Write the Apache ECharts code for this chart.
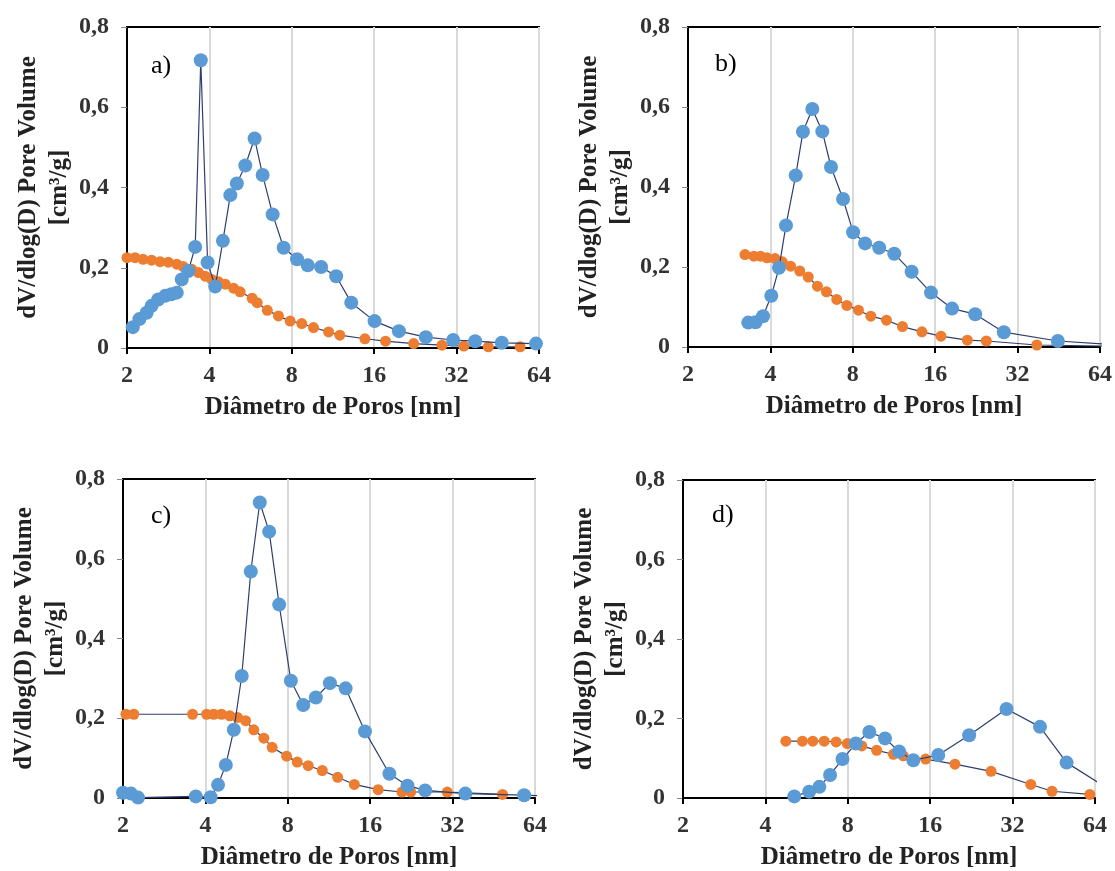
<!DOCTYPE html>
<html>
<head>
<meta charset="utf-8">
<script src="https://cdn.jsdelivr.net/npm/echarts@6/dist/echarts.min.js"></script>
<style>html,body{margin:0;padding:0;background:#fff}#c{width:1115px;height:871px}</style>
</head>
<body>
<div id="c"></div>
<script>
// ---- data ----
const panelLabels = ['a)', 'b)', 'c)', 'd)'];
const xTickLabels = ['2', '4', '8', '16', '32', '64'];
const yTickLabels = {0: '0', 0.2: '0,2', 0.4: '0,4', 0.6: '0,6', 0.8: '0,8'};
const xTitle = 'Diâmetro de Poros [nm]';
const yTitle = 'dV/dlog(D) Pore Volume\n[cm³/g]';

const aBlueX = [2.10,2.22,2.36,2.46,2.60,2.76,2.90,3.04,3.17,3.35,3.55,3.72,3.94,4.20,4.48,4.77,5.04,5.41,5.85,6.26,6.81,7.47,8.36,9.15,10.24,11.62,13.19,16.05,19.7,24.7,31.1,37.4,46.8,62.4];
const aBlueY = [0.052,0.072,0.088,0.105,0.121,0.130,0.134,0.138,0.171,0.192,0.252,0.717,0.213,0.153,0.267,0.381,0.410,0.455,0.522,0.431,0.333,0.250,0.221,0.206,0.202,0.179,0.113,0.067,0.042,0.027,0.020,0.017,0.013,0.011];
const aOrangeX = [2.0,2.14,2.29,2.46,2.64,2.83,3.04,3.21,3.45,3.65,3.86,4.08,4.32,4.57,4.90,5.18,5.73,5.98,6.51,7.15,7.89,8.7,9.6,10.9,11.98,14.8,17.6,22.3,28.3,34.0,41.8,54.6];
const aOrangeY = [0.225,0.225,0.221,0.219,0.215,0.214,0.209,0.203,0.196,0.188,0.179,0.171,0.165,0.159,0.149,0.140,0.124,0.113,0.094,0.080,0.067,0.061,0.051,0.040,0.032,0.023,0.017,0.011,0.007,0.005,0.003,0.003];

const bBlueX = [3.32,3.53,3.76,4.03,4.30,4.56,4.95,5.26,5.69,6.19,6.66,7.37,8.02,8.87,9.99,11.34,13.12,15.44,18.44,22.4,28.5,44.9,72];
const bBlueY = [0.061,0.062,0.077,0.128,0.198,0.304,0.429,0.538,0.595,0.539,0.450,0.370,0.287,0.259,0.248,0.233,0.188,0.136,0.096,0.082,0.037,0.015,0.006];
const bOrangeX = [3.23,3.48,3.68,3.89,4.16,4.42,4.74,5.12,5.50,5.94,6.41,6.99,7.61,8.39,9.31,10.62,12.15,14.31,16.8,20.97,24.6,37.6,72];
const bOrangeY = [0.231,0.227,0.227,0.223,0.221,0.213,0.202,0.190,0.175,0.152,0.138,0.119,0.104,0.092,0.077,0.067,0.051,0.038,0.027,0.017,0.015,0.005,0.002];

const cBlueX = [2.0,2.14,2.27,3.69,4.18,4.45,4.75,5.08,5.43,5.86,6.32,6.84,7.44,8.21,9.11,10.13,11.40,13.01,15.31,18.8,21.9,25.4,35.6,58.4,72];
const cBlueY = [0.013,0.011,0.001,0.004,0.002,0.033,0.083,0.171,0.306,0.568,0.741,0.668,0.485,0.294,0.233,0.252,0.288,0.275,0.167,0.061,0.031,0.019,0.011,0.007,0.005];
const cOrangeX = [2.05,2.19,3.59,4.04,4.29,4.58,4.91,5.24,5.61,6.01,6.54,7.01,7.92,8.66,9.50,10.69,12.17,14.0,17.1,20.9,22.5,30.6,48.7];
const cOrangeY = [0.210,0.210,0.210,0.210,0.210,0.210,0.206,0.202,0.194,0.171,0.150,0.127,0.105,0.090,0.081,0.069,0.052,0.034,0.021,0.015,0.015,0.015,0.009];

const dBlueX = [5.10,5.78,6.30,6.89,7.65,8.56,9.59,10.94,12.31,13.88,17.12,22.2,30.4,40.3,50.4,72];
const dBlueY = [0.004,0.016,0.028,0.058,0.098,0.137,0.166,0.150,0.117,0.095,0.108,0.158,0.224,0.179,0.089,0.022];
const dOrangeX = [4.75,5.46,5.96,6.56,7.25,7.97,9.0,10.2,11.74,12.76,15.4,19.7,26.7,37.3,44.6,61.3];
const dOrangeY = [0.143,0.143,0.143,0.143,0.141,0.137,0.131,0.120,0.110,0.106,0.098,0.085,0.067,0.034,0.017,0.009];

// ---- chart ----
const zip = (xs, ys) => xs.map((x, i) => [x, ys[i]]);
const panels = [
  {blue: zip(aBlueX, aBlueY), orange: zip(aOrangeX, aOrangeY)},
  {blue: zip(bBlueX, bBlueY), orange: zip(bOrangeX, bOrangeY)},
  {blue: zip(cBlueX, cBlueY), orange: zip(cOrangeX, cOrangeY)},
  {blue: zip(dBlueX, dBlueY), orange: zip(dOrangeX, dOrangeY)}
];
const grids = [
  {left: 127, top: 27, width: 412, height: 321},
  {left: 688, top: 27, width: 412, height: 320},
  {left: 123, top: 479, width: 412, height: 321},
  {left: 683, top: 480, width: 412, height: 321}
];
const labelPos = [[146, 48], [710, 46], [146, 498], [707, 497]];

const FONT = '"Liberation Serif", "Times New Roman", serif';
const LINE = '#2E3F6E';
const BLUE = '#5B9BD5';
const ORANGE = '#ED7D31';

const option = {
  backgroundColor: '#fff',
  animation: false,
  title: panelLabels.map((t, i) => ({
    text: t, left: labelPos[i][0], top: labelPos[i][1],
    textStyle: {fontFamily: FONT, fontSize: 26, fontWeight: 'normal', color: '#000'}
  })),
  grid: grids.map(g => Object.assign({show: true, borderColor: '#000', borderWidth: 2, backgroundColor: 'transparent'}, g)),
  xAxis: grids.map((g, i) => ({
    type: 'log', logBase: 2, min: 2, max: 64, gridIndex: i,
    name: xTitle, nameLocation: 'middle', nameGap: 47,
    nameTextStyle: {fontFamily: FONT, fontSize: 25, fontWeight: 'bold', color: '#222'},
    axisLine: {show: true, lineStyle: {color: '#000', width: 2}},
    axisTick: {show: true, length: 6, lineStyle: {color: '#000', width: 2}},
    axisLabel: {margin: 16, fontFamily: FONT, fontSize: 24, fontWeight: 'bold', color: '#333',
      formatter: v => xTickLabels.find(s => Math.abs(Number(s) - v) < 1e-6) || ''},
    splitLine: {show: true, lineStyle: {color: '#D9D9D9', width: 2}},
    minorTick: {show: false}
  })),
  yAxis: grids.map((g, i) => ({
    type: 'value', min: 0, max: 0.8, interval: 0.2, gridIndex: i,
    name: yTitle, nameLocation: 'middle', nameGap: 52, nameRotate: 90,
    nameTextStyle: {fontFamily: FONT, fontSize: 25, fontWeight: 'bold', color: '#222', lineHeight: 31},
    axisLine: {show: true, lineStyle: {color: '#000', width: 2}},
    axisTick: {show: true, length: 6, lineStyle: {color: '#888', width: 1}},
    axisLabel: {margin: 18, fontFamily: FONT, fontSize: 24, fontWeight: 'bold', color: '#333',
      formatter: v => yTickLabels[Math.round(v * 10) / 10] ?? ''},
    splitLine: {show: false}
  })),
  series: []
};
panels.forEach((p, i) => {
  option.series.push({
    type: 'line', xAxisIndex: i, yAxisIndex: i, data: p.orange,
    symbol: 'circle', symbolSize: 11, showSymbol: true,
    itemStyle: {color: ORANGE}, lineStyle: {color: LINE, width: 1.2}, z: 2
  });
  option.series.push({
    type: 'line', xAxisIndex: i, yAxisIndex: i, data: p.blue,
    symbol: 'circle', symbolSize: 14, showSymbol: true,
    itemStyle: {color: BLUE}, lineStyle: {color: LINE, width: 1.2}, z: 3
  });
});
const chart = echarts.init(document.getElementById('c'), null, {renderer: 'canvas'});
chart.setOption(option);
</script>
</body>
</html>
